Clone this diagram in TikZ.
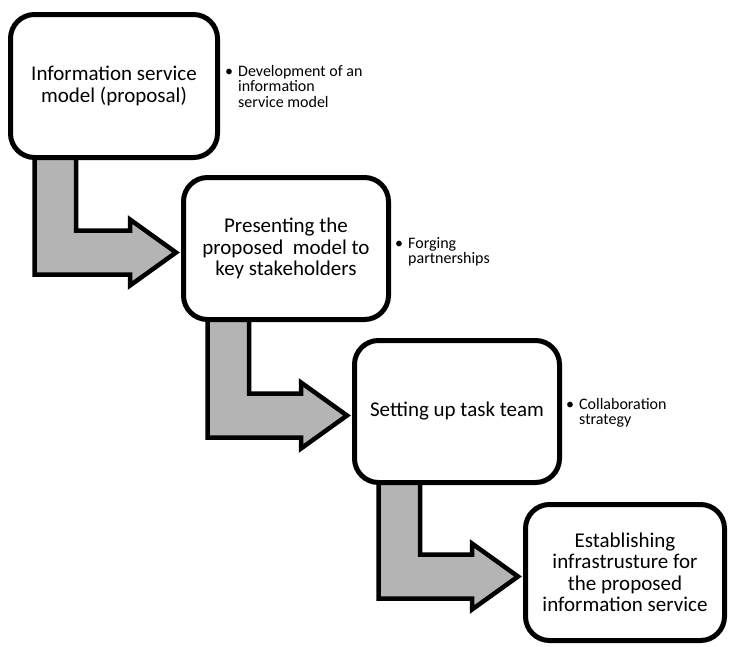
\documentclass[tikz,border=0pt]{standalone}
\usepackage{fontspec}
\setmainfont{Carlito}
\usetikzlibrary{calc}
\pgfdeclarelayer{background}
\pgfsetlayers{background,main}
\definecolor{arrowgray}{RGB}{180,180,180}
\tikzset{
  stepbox/.style={draw=black, line width=5pt, fill=white, rounded corners=24pt,
    align=center, inner sep=0pt, font=\fontsize{21}{21.5}\selectfont},
  blockarrow/.style={draw=black, line width=4.5pt, fill=arrowgray, line join=miter},
  note/.style={anchor=base west, inner sep=0pt, font=\fontsize{16}{15}\selectfont},
}
\newcommand\bentarrow[2]{%
  \path[blockarrow] let \p1=(#1.south west), \p2=(#2.west) in
    (\x1+26.5pt,\y1+10pt) -- (\x1+26.5pt,\y2-26pt) -- (\x2-51pt,\y2-26pt)
    -- (\x2-51pt,\y2-37pt) -- (\x2-5pt,\y2-4pt) -- (\x2-51pt,\y2+29pt)
    -- (\x2-51pt,\y2+18pt) -- (\x1+68pt,\y2+18pt) -- (\x1+68pt,\y1+10pt) -- cycle;}
\begin{document}
\begin{tikzpicture}[x=1pt,y=-1pt]
  \useasboundingbox (0,0) rectangle (729,646);
  \node[stepbox, minimum width=207pt, minimum height=143pt] (b1) at (114,86)
    {Information service\\model (proposal)};
  \node[stepbox, minimum width=205pt, minimum height=142pt] (b2) at (286,248.5)
    {Presenting the\\proposed~ model to\\key stakeholders};
  \node[stepbox, minimum width=205pt, minimum height=142pt] (b3) at (457,411.5)
    {Setting up task team};
  \node[stepbox, minimum width=199pt, minimum height=136pt] (b4) at (625,572.5)
    {Establishing\\infrastrusture for\\the proposed\\information service};

  \node[note] (n1) at (225,76) {\begin{tabular}[t]{@{}p{13pt}@{}l@{}}• & Development of an\\ & information\\ & service model\end{tabular}};
  \node[note] (n2) at (395,248) {\begin{tabular}[t]{@{}p{13pt}@{}l@{}}• & Forging\\ & partnerships\end{tabular}};
  \node[note] (n3) at (566,409) {\begin{tabular}[t]{@{}p{13pt}@{}l@{}}• & Collaboration\\ & strategy\end{tabular}};

  \begin{pgfonlayer}{background}
    \bentarrow{b1}{b2}
    \bentarrow{b2}{b3}
    \bentarrow{b3}{b4}
  \end{pgfonlayer}
\end{tikzpicture}
\end{document}
